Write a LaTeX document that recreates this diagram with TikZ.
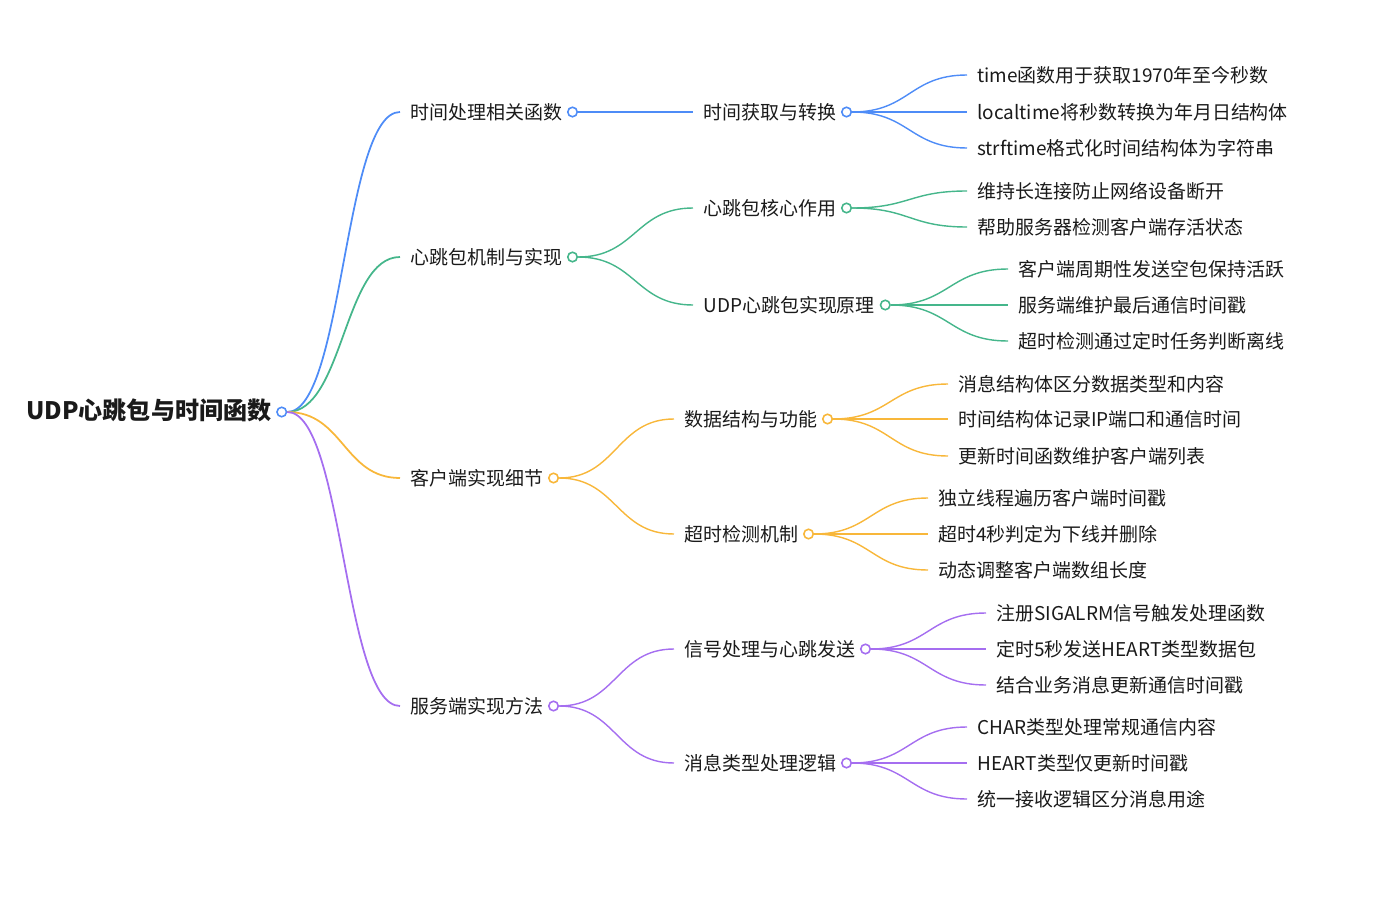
\documentclass[tikz,border=0pt]{standalone}
\usepackage{fontspec}
\setmainfont{Noto Sans CJK SC}
\usetikzlibrary{calc}
\definecolor{ink}{HTML}{1A1A1A}
\definecolor{timeblue}{HTML}{4E8CF7}
\definecolor{beatgreen}{HTML}{45B68B}
\definecolor{clientorange}{HTML}{F8B73A}
\definecolor{servpurple}{HTML}{A56EF0}

\begin{document}
\begin{tikzpicture}[x=0.02cm, y=-0.02cm,
  topic/.style={anchor=west, inner xsep=0.2cm, inner ysep=0pt,
    text height=0.9em, text depth=0.1em, text=ink,
    font=\fontsize{10.8}{13}\selectfont},
  knob/.style={circle, draw=#1, fill=white, line width=0.9pt,
    minimum size=0.19cm, inner sep=0pt},
  link/.style={draw=#1, line width=0.8pt,
    to path={let \p1=(\tikztostart), \p2=(\tikztotarget) in
      .. controls ({0.5*\x1+0.5*\x2},\y1) and ({0.5*\x1+0.5*\x2},\y2) .. (\tikztotarget)}}]
  \useasboundingbox (0,0) rectangle (1380,906);

  % Root
  \node[topic, font=\fontsize{13.7}{16}\selectfont\bfseries] (root) at (16,412) {UDP心跳包与时间函数};
  \node[knob=timeblue] (rootK) at (root.east) {};

  % First level
  \node[topic] (tfun) at (400,112) {时间处理相关函数};
  \node[topic] (hb) at (400,257) {心跳包机制与实现};
  \node[topic] (cli) at (400,478) {客户端实现细节};
  \node[topic] (srv) at (400,706) {服务端实现方法};
  \node[knob=timeblue] (tfunK) at (tfun.east) {};
  \node[knob=beatgreen] (hbK) at (hb.east) {};
  \node[knob=clientorange] (cliK) at (cli.east) {};
  \node[knob=servpurple] (srvK) at (srv.east) {};
  \draw[link=timeblue, line width=1pt] (rootK.east) to (tfun.west);
  \draw[link=beatgreen, line width=1pt] (rootK.east) to (hb.west);
  \draw[link=clientorange, line width=1pt] (rootK.east) to (cli.west);
  \draw[link=servpurple, line width=1pt] (rootK.east) to (srv.west);

  % Time functions (blue)
  \node[topic] (tget) at (693,112) {时间获取与转换};
  \node[knob=timeblue] (tgetK) at (tget.east) {};
  \draw[link=timeblue] (tfunK.east) to (tget.west);
  \node[topic] (tget1) at (967,75) {time函数用于获取1970年至今秒数};
  \node[topic] (tget2) at (967,112) {localtime将秒数转换为年月日结构体};
  \node[topic] (tget3) at (967,148) {strftime格式化时间结构体为字符串};
  \draw[link=timeblue] (tgetK.east) to (tget1.west);
  \draw[link=timeblue] (tgetK.east) to (tget2.west);
  \draw[link=timeblue] (tgetK.east) to (tget3.west);

  % Heartbeat (green)
  \node[topic] (hbrole) at (693,208) {心跳包核心作用};
  \node[topic] (hbudp) at (693,305) {UDP心跳包实现原理};
  \node[knob=beatgreen] (hbroleK) at (hbrole.east) {};
  \node[knob=beatgreen] (hbudpK) at (hbudp.east) {};
  \draw[link=beatgreen] (hbK.east) to (hbrole.west);
  \draw[link=beatgreen] (hbK.east) to (hbudp.west);
  \node[topic] (hbrole1) at (967,191) {维持长连接防止网络设备断开};
  \node[topic] (hbrole2) at (967,227) {帮助服务器检测客户端存活状态};
  \draw[link=beatgreen] (hbroleK.east) to (hbrole1.west);
  \draw[link=beatgreen] (hbroleK.east) to (hbrole2.west);
  \node[topic] (hbudp1) at (1008,269) {客户端周期性发送空包保持活跃};
  \node[topic] (hbudp2) at (1008,305) {服务端维护最后通信时间戳};
  \node[topic] (hbudp3) at (1008,341) {超时检测通过定时任务判断离线};
  \draw[link=beatgreen] (hbudpK.east) to (hbudp1.west);
  \draw[link=beatgreen] (hbudpK.east) to (hbudp2.west);
  \draw[link=beatgreen] (hbudpK.east) to (hbudp3.west);

  % Client (orange)
  \node[topic] (cdata) at (674,419) {数据结构与功能};
  \node[topic] (ctime) at (674,534) {超时检测机制};
  \node[knob=clientorange] (cdataK) at (cdata.east) {};
  \node[knob=clientorange] (ctimeK) at (ctime.east) {};
  \draw[link=clientorange] (cliK.east) to (cdata.west);
  \draw[link=clientorange] (cliK.east) to (ctime.west);
  \node[topic] (cdata1) at (948,384) {消息结构体区分数据类型和内容};
  \node[topic] (cdata2) at (948,419) {时间结构体记录IP端口和通信时间};
  \node[topic] (cdata3) at (948,456) {更新时间函数维护客户端列表};
  \draw[link=clientorange] (cdataK.east) to (cdata1.west);
  \draw[link=clientorange] (cdataK.east) to (cdata2.west);
  \draw[link=clientorange] (cdataK.east) to (cdata3.west);
  \node[topic] (ctime1) at (928,498) {独立线程遍历客户端时间戳};
  \node[topic] (ctime2) at (928,534) {超时4秒判定为下线并删除};
  \node[topic] (ctime3) at (928,570) {动态调整客户端数组长度};
  \draw[link=clientorange] (ctimeK.east) to (ctime1.west);
  \draw[link=clientorange] (ctimeK.east) to (ctime2.west);
  \draw[link=clientorange] (ctimeK.east) to (ctime3.west);

  % Server (purple)
  \node[topic] (ssig) at (674,649) {信号处理与心跳发送};
  \node[topic] (smsg) at (674,763) {消息类型处理逻辑};
  \node[knob=servpurple] (ssigK) at (ssig.east) {};
  \node[knob=servpurple] (smsgK) at (smsg.east) {};
  \draw[link=servpurple] (srvK.east) to (ssig.west);
  \draw[link=servpurple] (srvK.east) to (smsg.west);
  \node[topic] (ssig1) at (986,613) {注册SIGALRM信号触发处理函数};
  \node[topic] (ssig2) at (986,649) {定时5秒发送HEART类型数据包};
  \node[topic] (ssig3) at (986,685) {结合业务消息更新通信时间戳};
  \draw[link=servpurple] (ssigK.east) to (ssig1.west);
  \draw[link=servpurple] (ssigK.east) to (ssig2.west);
  \draw[link=servpurple] (ssigK.east) to (ssig3.west);
  \node[topic] (smsg1) at (967,727) {CHAR类型处理常规通信内容};
  \node[topic] (smsg2) at (967,763) {HEART类型仅更新时间戳};
  \node[topic] (smsg3) at (967,799) {统一接收逻辑区分消息用途};
  \draw[link=servpurple] (smsgK.east) to (smsg1.west);
  \draw[link=servpurple] (smsgK.east) to (smsg2.west);
  \draw[link=servpurple] (smsgK.east) to (smsg3.west);
\end{tikzpicture}
\end{document}
